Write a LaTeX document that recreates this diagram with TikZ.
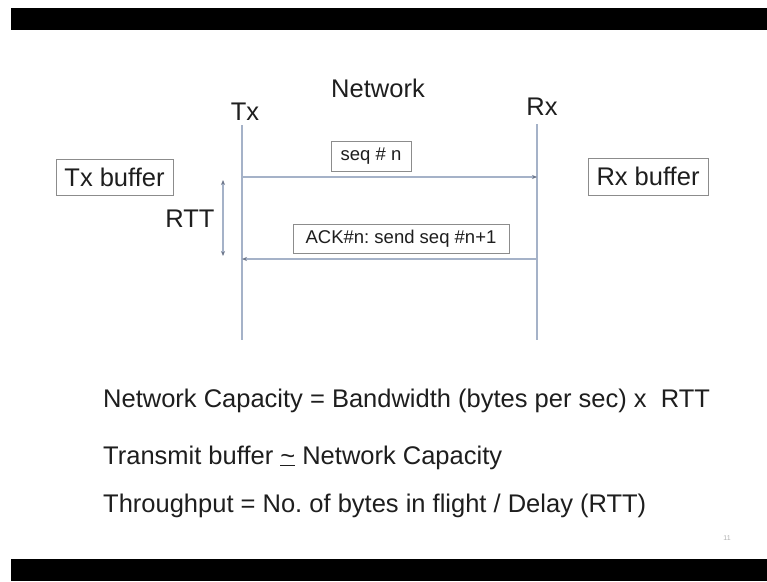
\documentclass[tikz,border=0pt]{standalone}
\usepackage{fontspec}
\setmainfont{Liberation Sans}
\usepackage{xcolor}
\definecolor{Ink}{RGB}{30,30,30}
\definecolor{Wire}{RGB}{165,178,200}
\definecolor{Tip}{RGB}{110,120,140}
\definecolor{Frame}{RGB}{140,140,140}
\usetikzlibrary{arrows.meta}
\frenchspacing

\tikzset{
	big/.style={font=\fontsize{25.5}{30}\selectfont, text=Ink, inner sep=0pt},
	small/.style={font=\fontsize{18.5}{22}\selectfont, text=Ink, inner sep=0pt},
	bufbox/.style={big, draw=Frame, line width=1pt},
	msgbox/.style={small, draw=Frame, line width=1pt},
	life/.style={draw=Wire, line width=1.2pt},
	sig/.style={draw=Wire, line width=1.2pt, -{Stealth[length=5pt,width=4pt,color=Tip]}}
}

\begin{document}
\begin{tikzpicture}[x=1pt, y=-1pt]

		% Frame
		\useasboundingbox (0,0) rectangle (767,581);
		\fill[white] (0,0) rectangle (767,581);
		\fill[black] (11,8) rectangle (767,30);
		\fill[black] (11,559) rectangle (767,581);

		% Header text
		\node[big] (net) at (378,88) {Network};
		\node[big] (tx) at (245,112) {Tx};
		\node[big] (rx) at (542,107) {Rx};

		% Lifelines
		\coordinate (txtop) at (242,125);
		\coordinate (txbot) at (242,340);
		\coordinate (rxtop) at (537,124);
		\coordinate (rxbot) at (537,340);
		\draw[life] (txtop) -- (txbot);
		\draw[life] (rxtop) -- (rxbot);

		% Buffers
		\node[bufbox, minimum width=117, minimum height=36] (txbuf) at (114.5,177) {Tx buffer};
		\node[bufbox, minimum width=120, minimum height=37] (rxbuf) at (648,176.5) {Rx buffer};

		% Messages
		\node[msgbox, minimum width=80, minimum height=30] (seq) at (371,156) {seq \# n};
		\node[msgbox, minimum width=216, minimum height=29] (ack) at (401,238.5) {ACK\#n: send seq \#n+1};
		\coordinate (seqa) at (242,177);
		\coordinate (seqb) at (537,177);
		\coordinate (acka) at (537,259);
		\coordinate (ackb) at (242,259);
		\draw[sig] (seqa) -- (seqb);
		\draw[sig] (acka) -- (ackb);

		% RTT
		\coordinate (rtta) at (223,180);
		\coordinate (rttb) at (223,256);
		\draw[sig, {Stealth[length=5pt,width=4pt,color=Tip]}-{Stealth[length=5pt,width=4pt,color=Tip]}] (rtta) -- (rttb);
		\node[big] (rtt) at (190,219) {RTT};

		% Formulas
		\node[big, anchor=base west] (cap) at (103,407) {Network Capacity = Bandwidth (bytes per sec) x \ RTT};
		\node[big, anchor=base west] (buf) at (103,464) {Transmit buffer \underline{\textasciitilde} Network Capacity};
		\node[big, anchor=base west] (thr) at (103,512) {Throughput = No. of bytes in flight / Delay (RTT)};

		\node[font=\fontsize{7}{8}\selectfont, text=gray!60] (pg) at (727,538) {11};

	\end{tikzpicture}
\end{document}
